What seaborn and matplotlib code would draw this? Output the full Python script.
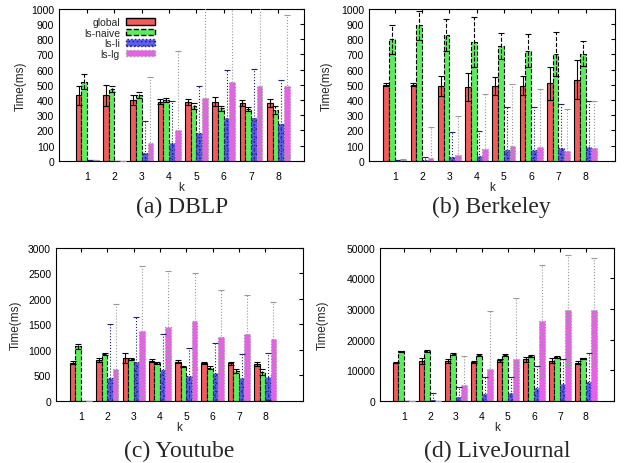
import numpy as np
import pandas as pd
import matplotlib
matplotlib.use('Agg')
import matplotlib.pyplot as plt
import seaborn as sns

# categories and series
ks = [1, 2, 3, 4, 5, 6, 7, 8]
methods = ['global', 'ls-naive', 'ls-li', 'ls-lg']

# (a) DBLP
dblp_global = [430, 430, 400, 390, 390, 390, 380, 380]
dblp_global_err = [65, 70, 30, 15, 20, 30, 20, 25]
dblp_naive = [520, 470, 435, 400, 360, 345, 340, 335]
dblp_naive_err = [50, 20, 20, 15, 20, 15, 15, 25]
dblp_li = [3, 2, 55, 115, 185, 285, 285, 240]
dblp_li_err = [0, 0, 205, 280, 305, 315, 320, 290]
dblp_lg = [3, 2, 115, 205, 415, 520, 495, 495]
dblp_lg_err = [0, 0, 435, 515, 700, 700, 700, 465]

# (b) Berkeley
berk_global = [500, 500, 490, 485, 490, 495, 510, 535]
berk_global_err = [10, 10, 65, 90, 60, 60, 110, 130]
berk_naive = [800, 890, 825, 780, 755, 725, 700, 705]
berk_naive_err = [95, 95, 105, 165, 85, 110, 145, 80]
berk_li = [5, 8, 28, 33, 70, 72, 82, 92]
berk_li_err = [3, 15, 160, 165, 285, 280, 290, 305]
berk_lg = [8, 20, 38, 78, 98, 92, 65, 82]
berk_lg_err = [5, 200, 260, 360, 405, 380, 275, 310]

# (c) Youtube
yt_global = [750, 800, 840, 790, 770, 750, 740, 720]
yt_global_err = [30, 30, 100, 20, 25, 20, 30, 40]
yt_naive = [1070, 920, 820, 740, 670, 650, 580, 560]
yt_naive_err = [50, 20, 20, 15, 10, 30, 40, 60]
yt_li = [5, 450, 760, 610, 490, 550, 450, 470]
yt_li_err = [0, 1050, 890, 690, 550, 590, 470, 460]
yt_lg = [5, 620, 1375, 1450, 1570, 1255, 1310, 1220]
yt_lg_err = [0, 1270, 1275, 1100, 940, 915, 760, 710]

# (d) LiveJournal
lj_global = [12500, 13000, 13000, 12700, 13300, 13500, 13100, 12500]
lj_global_err = [300, 900, 600, 300, 500, 700, 900, 400]
lj_naive = [16200, 16300, 15300, 15000, 14900, 14600, 14300, 13900]
lj_naive_err = [200, 300, 300, 200, 400, 300, 200, 200]
lj_li = [100, 300, 1200, 2300, 2600, 4100, 5400, 6100]
lj_li_err = [0, 2200, 3300, 5500, 5200, 7400, 8400, 9400]
lj_lg = [100, 100, 5200, 10300, 13500, 26200, 29800, 29800]
lj_lg_err = [0, 0, 9300, 18900, 20000, 18100, 17900, 16700]

colors = ['#f25c5c', '#5ced5c', '#5c5cee', '#ee5cee']
edge_colors = ['black', 'black', '#222266', '#999999']
edge_styles = ['-', '--', ':', ':']
hatches = [None, None, '....', '....']

sns.set_style('white')
plt.rcParams['font.family'] = ['Liberation Sans', 'DejaVu Sans']
plt.rcParams['hatch.linewidth'] = 0.5

fig = plt.figure(figsize=(6.24, 4.64), dpi=100)


def panel(rect, series, errs, ymax, ystep, xlim, ylab_x, caption, caption_y, legend=False):
    ax = fig.add_axes(rect)
    rows = []
    for m, vals in zip(methods, series):
        for k, v in zip(ks, vals):
            rows.append({'k': k, 'method': m, 'time': v})
    df = pd.DataFrame(rows)
    sns.barplot(data=df, x='k', y='time', hue='method', hue_order=methods,
                palette=colors, width=0.84, errorbar=None, saturation=1,
                ax=ax, legend=legend)
    bar_groups = list(ax.containers)
    for i, cont in enumerate(bar_groups):
        xs, ys = [], []
        for p in cont.patches:
            p.set_edgecolor(edge_colors[i])
            p.set_linestyle(edge_styles[i])
            p.set_linewidth(0.8)
            if hatches[i]:
                p.set_hatch(hatches[i])
            xs.append(p.get_x() + p.get_width() / 2)
            ys.append(p.get_height())
        eb = ax.errorbar(xs, ys, yerr=errs[i], fmt='none', ecolor=edge_colors[i],
                         elinewidth=0.8, capsize=2.5, capthick=0.8, zorder=5)
        eb[2][0].set_linestyle(edge_styles[i])
    ax.set_ylim(0, ymax)
    ax.set_yticks(np.arange(0, ymax + 1, ystep))
    ax.set_xlim(*xlim)
    ax.set_xlabel('k', fontsize=8.5)
    ax.xaxis.set_label_coords(0.5, -0.13)
    ax.set_ylabel('Time(ms)', fontsize=8.5)
    ax.yaxis.set_label_coords(ylab_x, 0.5)
    ax.tick_params(axis='both', direction='in', length=3, width=0.8,
                   top=True, right=True, labelsize=7.5, colors='black')
    ax.tick_params(axis='x', pad=7)
    for s in ax.spines.values():
        s.set_linewidth(0.8)
        s.set_color('black')
    if legend:
        leg = ax.legend(loc='upper left', bbox_to_anchor=(0.067, 1.0), frameon=False,
                        markerfirst=False, fontsize=7.5, handlelength=2.8,
                        handleheight=0.6, labelspacing=0.05, borderaxespad=0.4,
                        handletextpad=0.6)
        for i, h in enumerate(leg.legend_handles):
            h.set_edgecolor(edge_colors[i])
            h.set_linestyle(edge_styles[i])
            if hatches[i]:
                h.set_hatch(hatches[i])
    fig.text(rect[0] + rect[2] / 2, caption_y, caption, ha='center', va='center',
             fontsize=17, family=['Liberation Serif', 'DejaVu Serif'])
    return ax


panel([0.0946, 0.651, 0.393, 0.328],
      [dblp_global, dblp_naive, dblp_li, dblp_lg],
      [dblp_global_err, dblp_naive_err, dblp_li_err, dblp_lg_err],
      1000, 100, (-1.03, 7.95), -0.131, '(a) DBLP', 1 - 207 / 464, legend=True)
panel([0.591, 0.651, 0.394, 0.328],
      [berk_global, berk_naive, berk_li, berk_lg],
      [berk_global_err, berk_naive_err, berk_li_err, berk_lg_err],
      1000, 100, (-0.95, 8.06), -0.146, '(b) Berkeley', 1 - 207 / 464)
panel([0.0897, 0.134, 0.396, 0.33],
      [yt_global, yt_naive, yt_li, yt_lg],
      [yt_global_err, yt_naive_err, yt_li_err, yt_lg_err],
      3000, 500, (-0.95, 8.44), -0.138, '(c) Youtube', 1 - 451 / 464)
panel([0.609, 0.134, 0.375, 0.33],
      [lj_global, lj_naive, lj_li, lj_lg],
      [lj_global_err, lj_naive_err, lj_li_err, lj_lg_err],
      50000, 10000, (-0.92, 8.08), -0.218, '(d) LiveJournal', 1 - 451 / 464)

fig.savefig('out.png', dpi=100)
